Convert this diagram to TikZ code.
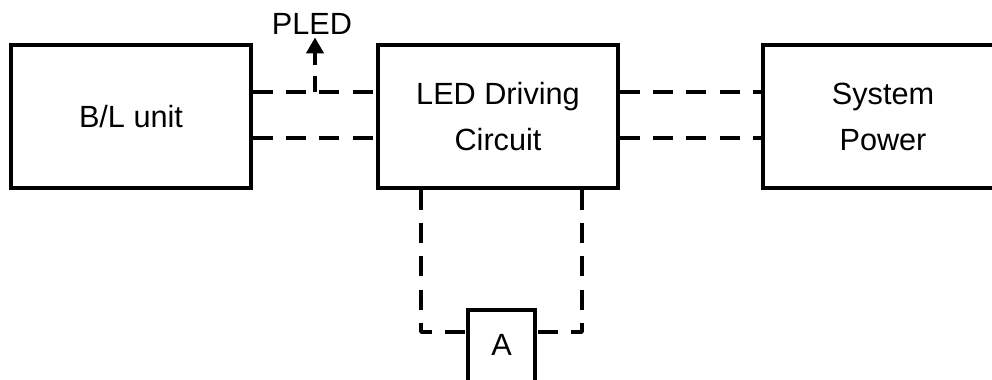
\documentclass[tikz,border=0pt]{standalone}
\usepackage{fontspec}
\setmainfont{Liberation Sans}
\usetikzlibrary{arrows.meta}
\tikzset{
  blockbox/.style={draw, line width=2.7pt, minimum width=180pt, minimum height=107pt, align=center, inner sep=0pt},
  wire/.style={line width=2.7pt, dash pattern=on 15pt off 10pt},
}
\begin{document}
\begin{tikzpicture}[x=0.75pt, y=-0.75pt, font=\fontsize{23pt}{34.5pt}\selectfont]
\clip (0,0) rectangle (992,379);
\useasboundingbox (0,0) rectangle (992,379);

% Main blocks
\node[blockbox] (bl) at (131,116.5) {B/L unit};
\node[blockbox] (led) at (498,116.5) {LED Driving\\Circuit};
\node[blockbox] (sys) at (883,116.5) {System\\Power};

% Box A (runs past the bottom edge)
\node[draw, line width=2.7pt, minimum width=50pt, inner sep=0pt, text height=34pt, text depth=22pt, anchor=north] (a) at (501.5,308) {A};

% PLED label
\node[inner sep=2pt] (pled) at (312,24) {PLED};

% Links between blocks
\draw[wire] (bl.east |- 0,92) -- (led.west |- 0,92);
\draw[wire] (bl.east |- 0,138) -- (led.west |- 0,138);
\draw[wire] (led.east |- 0,92) -- (sys.west |- 0,92);
\draw[wire] (led.east |- 0,138) -- (sys.west |- 0,138);

% PLED tap
\coordinate (tap) at (315,92);
\draw[line width=2.7pt, dash pattern=on 12pt off 8pt, -{Triangle[width=13pt,length=12pt]}] (tap) -- (tap |- pled.south);

% Loop through A
\coordinate (la) at (421,332);
\coordinate (ra) at (582,332);
\draw[wire, line join=round] (led.south -| la) -- (la) -- (a.west |- la);
\draw[wire, line join=round] (led.south -| ra) -- (ra) -- (a.east |- ra);
\end{tikzpicture}
\end{document}
